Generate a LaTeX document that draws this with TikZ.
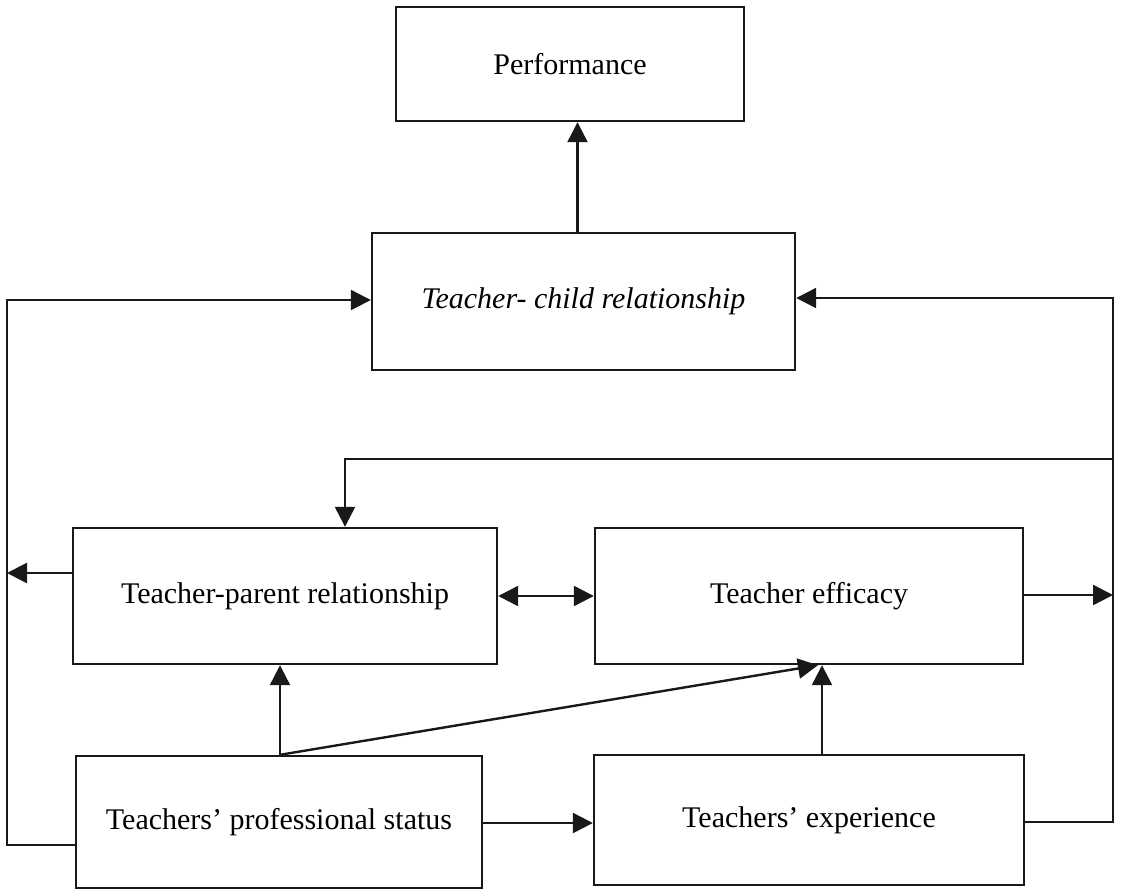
\documentclass[tikz,border=0pt]{standalone}
\usepackage{fontspec}
\setmainfont{Liberation Serif}
\usetikzlibrary{arrows.meta}
\begin{document}
\begin{tikzpicture}[x=1pt,y=-1pt,
  box/.style={draw=black!90, line width=2.4pt, inner sep=0pt, font=\fontsize{30}{34}\selectfont},
  conn/.style={draw=black!90, line width=2.4pt},
  arr/.style={conn, -{Triangle[length=20pt,width=20pt]}},
  darr/.style={conn, {Triangle[length=20pt,width=20pt]}-{Triangle[length=20pt,width=20pt]}}]
\useasboundingbox (0,0) rectangle (1121,892);
\node[box, minimum width=348, minimum height=114] (perf) at (570,64) {Performance};
\node[box, minimum width=423, minimum height=137] (tc) at (583.5,301.5) {\itshape Teacher- child relationship};
\node[box, minimum width=424, minimum height=136] (tp) at (285,596) {Teacher-parent relationship};
\node[box, minimum width=428, minimum height=136] (te) at (809,596) {Teacher efficacy};
\node[box, minimum width=406, minimum height=132] (tps) at (279,822) {Teachers’ professional status};
\node[box, minimum width=430, minimum height=130] (tex) at (809,820) {Teachers’ experience};
% routing coordinates
\coordinate (L1) at (7,845);
\coordinate (L2) at (7,300);
\coordinate (L3) at (7,573);
\coordinate (R1) at (1113,822);
\coordinate (R2) at (1113,298);
\coordinate (R3) at (1113,595);
\coordinate (R4) at (1113,459);
\coordinate (F1) at (345,459);
% connectors
\draw[arr] ([xshift=-6pt]tc.north) -- ([xshift=-6pt]tc.north |- perf.south);
\draw[arr] (tps.west |- L1) -- (L1) -- (L2) -- (tc.west |- L2);
\draw[arr] (tp.west |- L3) -- (L3);
\draw[arr] (tex.east |- R1) -- (R1) -- (R2) -- (tc.east |- R2);
\draw[arr] (te.east |- R3) -- (R3);
\draw[arr] (R4) -- (F1) -- (tp.north -| F1);
\draw[darr] (tp.east) -- (te.west);
\draw[arr] (tps.north -| 280,0) -- (tp.south -| 280,0);
\draw[arr] (tps.north -| 280,0) -- (te.south -| 818,0);
\draw[arr] (tex.north -| 822,0) -- (te.south -| 822,0);
\draw[arr] (tps.east |- 0,823) -- (tex.west |- 0,823);
\end{tikzpicture}
\end{document}
